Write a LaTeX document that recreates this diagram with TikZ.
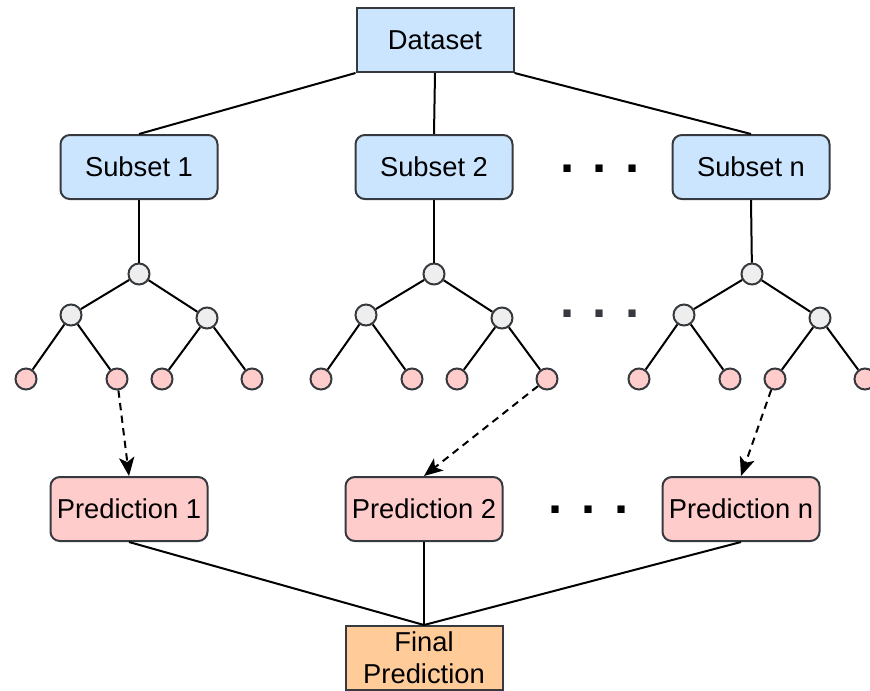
\documentclass[tikz,border=0pt]{standalone}
\usepackage{fontspec}
\setmainfont{Liberation Sans}
\usetikzlibrary{arrows.meta,positioning}
\definecolor{BagBlue}{HTML}{CCE5FF}
\definecolor{BagPink}{HTML}{FFCCCC}
\definecolor{BagOrange}{HTML}{FFCC99}
\definecolor{BagGray}{HTML}{EEEEEE}
\definecolor{BagEdge}{HTML}{36393D}

\begin{document}
\begin{tikzpicture}[x=0.75pt, y=-0.75pt,
  every node/.style={font=\fontsize{20.5}{24}\selectfont},
  box/.style={draw=BagEdge, line width=1.5pt, minimum width=117.75pt,
              minimum height=48pt, align=center, inner sep=2pt},
  subset/.style={box, fill=BagBlue, rounded corners=7pt},
  pred/.style={box, fill=BagPink, rounded corners=7pt},
  split/.style={circle, draw=BagEdge, fill=BagGray, line width=1.5pt,
                minimum size=15.75pt, inner sep=0pt},
  leaf/.style={split, fill=BagPink},
  dots/.style={anchor=base, font=\fontsize{38}{40}\bfseries\selectfont},
  link/.style={line width=1.5pt},
  vote/.style={-{Stealth[length=14pt, width=11.5pt, inset=3.5pt]}, line width=1.5pt,
               dash pattern=on 5.5pt off 4pt},
]
\useasboundingbox (0,0) rectangle (870,690);
\node[box, fill=BagBlue] (data) at (435,40) {Dataset};
\node[subset] (sub1) at (139,167) {Subset 1};
\node[subset] (sub2) at (434,167) {Subset 2};
\node[subset] (subn) at (751,167) {Subset n};
\node[pred] (pred1) at (129,509) {Prediction 1};
\node[pred] (pred2) at (424,509) {Prediction 2};
\node[pred] (predn) at (741,509) {Prediction n};
\node[box, fill=BagOrange] (final) at (424,658) {Final\\Prediction};
\node[dots] (dsub) at (600,172) {. . .};
\node[dots, text=BagEdge] (dtree) at (600,317) {. . .};
\node[dots] (dpred) at (588.5,513) {. . .};
% data -> subsets
\draw[link] (data.south west) -- (sub1.north);
\draw[link] (data.south) -- (sub2.north);
\draw[link] (data.south east) -- (subn.north);
% one tree per subset
\foreach \t/\x in {1/139, 2/434, n/752} {
  \node[split] (r\t) at (\x,274) {};
  \node[split] (a\t) at (\x-68,315) {};
  \node[split] (b\t) at (\x+68,318) {};
  \node[leaf] (l\t1) at (\x-113,379) {};
  \node[leaf] (l\t2) at (\x-22,379) {};
  \node[leaf] (l\t3) at (\x+23,379) {};
  \node[leaf] (l\t4) at (\x+113,379) {};
  \draw[link] (sub\t.south) -- (r\t);
  \draw[link] (r\t) -- (a\t) (r\t) -- (b\t);
  \draw[link] (a\t) -- (l\t1) (a\t) -- (l\t2) (b\t) -- (l\t3) (b\t) -- (l\t4);
}
\draw[vote] (l12) -- (pred1.north);
\draw[vote] (l24) -- (pred2.north);
\draw[vote] (ln3) -- (predn.north);
\foreach \p in {1,2,n} {\draw[link] (pred\p.south) -- (final.north);}
\end{tikzpicture}
\end{document}
